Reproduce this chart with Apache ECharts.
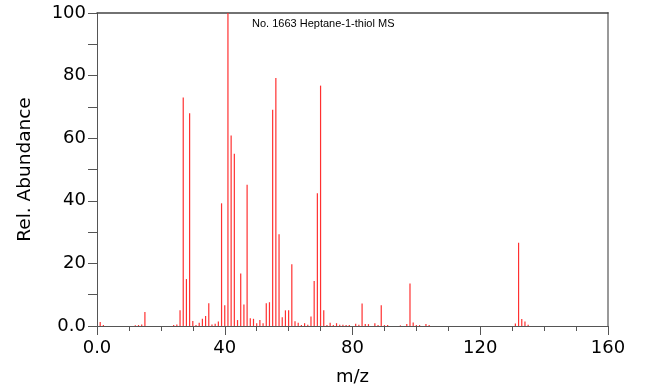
<!DOCTYPE html>
<html>
<head>
<meta charset="utf-8">
<script src="https://cdn.jsdelivr.net/npm/echarts@6/dist/echarts.min.js"></script>
<style>html,body{margin:0;padding:0;background:#fff}#c{width:650px;height:391px}</style>
</head>
<body>
<div id="c"></div>
<script>
const title = 'No. 1663 Heptane-1-thiol MS';
const mz = [1,2,12,13,14,15,24,25,26,27,28,29,30,31,32,33,34,35,36,37,38,39,40,41,42,43,44,45,46,47,48,49,50,51,52,53,54,55,56,57,58,59,60,61,62,63,64,65,66,67,68,69,70,71,72,73,74,75,76,77,78,79,81,82,83,84,85,87,88,89,90,91,95,97,98,99,100,101,103,104,131,132,133,134,135];
const abundance = [1.3,0.3,0.2,0.3,0.5,4.5,0.3,0.5,5,73,15,68,1.6,0.3,1,2.3,3.2,7.3,0.5,0.7,1.4,39.2,6.6,100,60.9,55,1.9,16.8,6.9,45.1,2.5,2.3,0.9,1.9,0.9,7.3,7.6,69.1,79.2,29.3,2.8,5,5,19.7,1.5,1,0.3,0.9,0.4,3,14.4,42.4,76.8,5,0.3,1,0.3,0.9,0.4,0.4,0.3,0.3,0.7,0.4,7.2,0.6,0.6,0.9,0.3,6.6,0.3,0.3,0.2,0.6,13.6,1.1,0.3,0.3,0.6,0.3,0.8,26.6,2.2,1.4,0.4];
const xTicks = {min: 0, max: 160, step: 40};
const yTicks = {min: 0, max: 100, step: 20};

const fmt = v => (v === 0 ? '0.0' : String(v));
const chart = echarts.init(document.getElementById('c'), null, {renderer: 'canvas'});
chart.setOption({
  animation: false,
  grid: {left: 97, right: 42, top: 13, bottom: 61, containLabel: false},
  title: {
    text: title, left: 252, top: 18, padding: 0,
    textStyle: {fontFamily: 'Liberation Sans', fontSize: 11, fontWeight: 'normal', color: '#000'}
  },
  xAxis: [{
    type: 'value', min: xTicks.min, max: xTicks.max, interval: xTicks.step,
    name: 'm/z', nameLocation: 'middle', nameGap: 42,
    nameTextStyle: {fontFamily: 'DejaVu Sans', fontSize: 18, color: '#000'},
    axisLine: {show: true, onZero: false, lineStyle: {color: '#555', width: 1}},
    axisTick: {show: true, length: 9, lineStyle: {color: '#555'}},
    minorTick: {show: true, splitNumber: 4, length: 5, lineStyle: {color: '#555'}},
    splitLine: {show: false},
    axisLabel: {formatter: fmt, margin: 13, fontFamily: 'DejaVu Sans', fontSize: 18, color: '#000'}
  }, {
    type: 'value', position: 'top', min: xTicks.min, max: xTicks.max,
    axisLine: {show: true, onZero: false, lineStyle: {color: '#444', width: 1.5}},
    axisTick: {show: false}, axisLabel: {show: false}, splitLine: {show: false}
  }],
  yAxis: [{
    type: 'value', min: yTicks.min, max: yTicks.max, interval: yTicks.step,
    name: 'Rel. Abundance', nameLocation: 'middle', nameGap: 62, nameRotate: 90,
    nameTextStyle: {fontFamily: 'DejaVu Sans', fontSize: 18.5, color: '#000'},
    axisLine: {show: true, onZero: false, lineStyle: {color: '#555', width: 1}},
    axisTick: {show: true, length: 9, lineStyle: {color: '#555'}},
    minorTick: {show: true, splitNumber: 2, length: 9, lineStyle: {color: '#555'}},
    splitLine: {show: false},
    axisLabel: {formatter: fmt, margin: 11, fontFamily: 'DejaVu Sans', fontSize: 18, color: '#000'}
  }, {
    type: 'value', position: 'right', min: yTicks.min, max: yTicks.max,
    axisLine: {show: true, onZero: false, lineStyle: {color: '#999', width: 2}},
    axisTick: {show: false}, axisLabel: {show: false}, splitLine: {show: false}
  }],
  series: [{
    type: 'bar', xAxisIndex: 0, yAxisIndex: 0,
    barWidth: 1.2,
    itemStyle: {color: '#ff3030'},
    data: mz.map((m, i) => [m, abundance[i]])
  }]
});
</script>
</body>
</html>
